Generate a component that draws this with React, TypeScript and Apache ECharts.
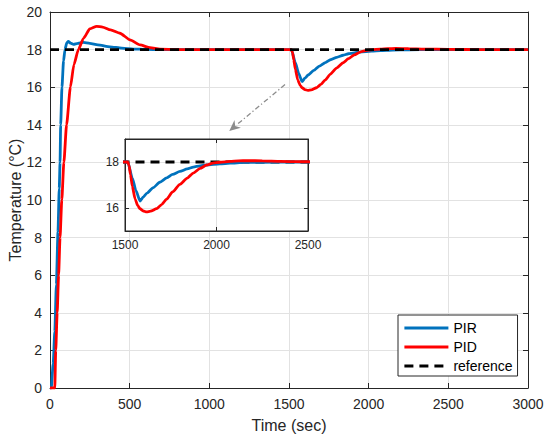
import { useEffect, useRef } from "react";
import * as echarts from "echarts";

const pirData: number[][] = [
  [0, 0], [8, 0], [20, 1.3], [30, 3.0], [40, 5.5], [50, 8.3], [58, 10.6], [63, 12.0], [67, 14.0],
  [75, 16.0], [85, 17.4], [94, 18.0], [105, 18.35], [115, 18.43], [130, 18.34], [147, 18.28],
  [175, 18.33], [209, 18.38], [250, 18.33], [300, 18.25], [377, 18.15], [450, 18.08], [523, 18.03],
  [600, 18.01], [700, 18.0], [1000, 18.0], [1515, 18.0], [1540, 17.3], [1560, 16.75], [1582, 16.3],
  [1600, 16.48], [1620, 16.65], [1655, 16.89], [1690, 17.12], [1728, 17.31], [1760, 17.46],
  [1800, 17.59], [1840, 17.7], [1873, 17.78], [1910, 17.83], [1946, 17.87], [2019, 17.92],
  [2074, 17.95], [2150, 17.98], [2250, 17.99], [2400, 18.0], [3000, 18.0],
];

const pidData: number[][] = [
  [0, 0], [30, 0], [36, 2], [45, 4], [54, 6], [63, 8], [74, 10], [87, 12], [104, 14], [128, 16],
  [150, 17.2], [178, 18.0], [210, 18.6], [250, 19.1], [293, 19.24], [330, 19.2], [380, 19.05],
  [439, 18.87], [502, 18.52], [565, 18.25], [628, 18.1], [690, 18.02], [800, 18.0], [1515, 18.0],
  [1522, 17.85], [1530, 17.45], [1540, 16.95], [1555, 16.39], [1570, 16.1], [1582, 15.97],
  [1600, 15.87], [1618, 15.83], [1640, 15.86], [1673, 15.97], [1700, 16.15], [1728, 16.39],
  [1760, 16.7], [1800, 17.03], [1840, 17.3], [1873, 17.52], [1910, 17.72], [1946, 17.87],
  [1980, 17.95], [2019, 17.99], [2074, 18.03], [2120, 18.05], [2170, 18.06], [2250, 18.05],
  [2350, 18.03], [2500, 18.01], [2700, 18.0], [3000, 18.0],
];

const refData: number[][] = [[0, 18], [3000, 18]];

const seriesNames = ["PIR", "PID", "reference"];
const xAxisName = "Time (sec)";
const yAxisName = "Temperature (°C)";
const insetYLabels = [16, 18];
const arrowFrom = [1475, 16.14];
const arrowTo = [1125, 13.67];

const FONT = "Liberation Sans, Arial, Helvetica, sans-serif";
const AX = "#262626";
const GRID = "#e2e2e2";
const BLUE = "#0072BD";
const RED = "#FF0000";
const plain = (v: number) => String(v);

function axisBase(extra: any) {
  return {
    type: "value",
    axisLine: { show: true, onZero: false, lineStyle: { color: AX, width: 1 } },
    axisTick: { show: true, inside: true, length: 5, lineStyle: { color: AX } },
    axisLabel: { color: AX, fontFamily: FONT, fontSize: 14 },
    splitLine: { show: false },
    ...extra,
  };
}

export default function App() {
  const ref = useRef<HTMLDivElement>(null);
  useEffect(() => {
    document.body.style.margin = "0";
    const chart = echarts.init(ref.current!, null, { renderer: "svg" });
    const lineW = 2.8;
    const option: any = {
      animation: false,
      backgroundColor: "#fff",
      grid: [
        { left: 50, right: 22, top: 12, bottom: 52, containLabel: false, outerBoundsMode: "none" },
        {
          left: 125, top: 139, width: 183, height: 92, show: true, containLabel: false,
          outerBoundsMode: "none",
          backgroundColor: "#fff", borderColor: AX, borderWidth: 1, z: 1,
        },
      ],
      xAxis: [
        axisBase({
          gridIndex: 0, min: 0, max: 3000, interval: 500, position: "bottom",
          axisLabel: { color: AX, fontFamily: FONT, fontSize: 14, margin: 9, formatter: plain },
          splitLine: { show: true, lineStyle: { color: GRID, width: 1 } },
          name: xAxisName, nameLocation: "middle", nameGap: 29, nameMoveOverlap: false,
          nameTextStyle: { color: AX, fontFamily: FONT, fontSize: 16 },
        }),
        axisBase({
          gridIndex: 0, min: 0, max: 3000, interval: 500, position: "top",
          axisLabel: { show: false },
        }),
        axisBase({
          gridIndex: 1, min: 1500, max: 2500, interval: 500, position: "bottom", z: 3,
          axisLabel: { color: AX, fontFamily: FONT, fontSize: 12, margin: 8, formatter: plain },
          splitLine: { show: true, lineStyle: { color: GRID, width: 1 } },
          axisTick: { show: true, inside: true, length: 4, lineStyle: { color: AX } },
        }),
        axisBase({
          gridIndex: 1, min: 1500, max: 2500, interval: 500, position: "top", z: 3,
          axisLabel: { show: false },
          axisTick: { show: true, inside: true, length: 4, lineStyle: { color: AX } },
        }),
      ],
      yAxis: [
        axisBase({
          gridIndex: 0, min: 0, max: 20, interval: 2, position: "left",
          axisLabel: { color: AX, fontFamily: FONT, fontSize: 14, margin: 8, formatter: plain },
          splitLine: { show: true, lineStyle: { color: GRID, width: 1 } },
          name: yAxisName, nameLocation: "middle", nameGap: 27, nameMoveOverlap: false,
          nameTextStyle: { color: AX, fontFamily: FONT, fontSize: 16 },
        }),
        axisBase({
          gridIndex: 0, min: 0, max: 20, interval: 2, position: "right",
          axisLabel: { show: false },
        }),
        axisBase({
          gridIndex: 1, min: 15, max: 19, interval: 1, position: "left", z: 3,
          axisLabel: { color: AX, fontFamily: FONT, fontSize: 12, margin: 6, customValues: insetYLabels },
          axisTick: { show: true, inside: true, length: 4, customValues: insetYLabels, lineStyle: { color: AX } },
          splitLine: { show: true, lineStyle: { color: GRID, width: 1 } },
        }),
        axisBase({
          gridIndex: 1, min: 15, max: 19, interval: 1, position: "right", z: 3,
          axisLabel: { show: false },
          axisTick: { show: true, inside: true, length: 4, customValues: insetYLabels, lineStyle: { color: AX } },
        }),
      ],
      legend: {
        data: seriesNames,
        orient: "vertical",
        left: 398,
        top: 315,
        padding: [6, 5, 3, 5],
        itemGap: 5,
        itemWidth: 44,
        itemHeight: 14,
        backgroundColor: "#fff",
        borderColor: AX,
        borderWidth: 1,
        borderRadius: 0,
        itemStyle: { opacity: 0 },
        lineStyle: { width: 2.8 },
        textStyle: { color: "#000", fontFamily: FONT, fontSize: 14 },
        z: 10,
      },
      series: [
        {
          name: seriesNames[0], type: "line", xAxisIndex: 0, yAxisIndex: 0, data: pirData,
          showSymbol: false, symbol: "none", smooth: 0.2, smoothMonotone: "x",
          lineStyle: { color: BLUE, width: lineW }, itemStyle: { color: BLUE }, z: 2,
        },
        {
          name: seriesNames[1], type: "line", xAxisIndex: 0, yAxisIndex: 0, data: pidData,
          showSymbol: false, symbol: "none", smooth: 0.2, smoothMonotone: "x",
          lineStyle: { color: RED, width: lineW }, itemStyle: { color: RED }, z: 3,
        },
        {
          name: seriesNames[2], type: "line", xAxisIndex: 0, yAxisIndex: 0, data: refData,
          showSymbol: false, symbol: "none",
          lineStyle: { color: "#000", width: lineW, type: [9, 6] }, itemStyle: { color: "#000" }, z: 4,
        },
        {
          name: seriesNames[2], type: "line", xAxisIndex: 2, yAxisIndex: 2, data: refData,
          showSymbol: false, symbol: "none", clip: true,
          lineStyle: { color: "#000", width: lineW, type: [9, 6] }, itemStyle: { color: "#000" }, z: 5,
        },
        {
          name: seriesNames[0], type: "line", xAxisIndex: 2, yAxisIndex: 2, data: pirData,
          showSymbol: false, symbol: "none", smooth: 0.2, smoothMonotone: "x", clip: true,
          lineStyle: { color: BLUE, width: lineW }, itemStyle: { color: BLUE }, z: 6,
        },
        {
          name: seriesNames[1], type: "line", xAxisIndex: 2, yAxisIndex: 2, data: pidData,
          showSymbol: false, symbol: "none", smooth: 0.2, smoothMonotone: "x", clip: true,
          lineStyle: { color: RED, width: lineW }, itemStyle: { color: RED }, z: 7,
        },
      ],
    };
    chart.setOption(option);

    const a = chart.convertToPixel({ xAxisIndex: 0, yAxisIndex: 0 }, arrowFrom) as number[];
    const b = chart.convertToPixel({ xAxisIndex: 0, yAxisIndex: 0 }, arrowTo) as number[];
    if (a && b) {
      const dx = b[0] - a[0];
      const dy = b[1] - a[1];
      const len = Math.sqrt(dx * dx + dy * dy);
      const ux = dx / len;
      const uy = dy / len;
      const headL = 11;
      const headW = 5;
      const bx = b[0] - ux * headL;
      const by = b[1] - uy * headL;
      const px = -uy;
      const py = ux;
      chart.setOption({
        graphic: [
          {
            type: "line", z: 20, silent: true,
            shape: { x1: a[0], y1: a[1], x2: bx + ux * 2, y2: by + uy * 2 },
            style: { stroke: "#8c8c8c", lineWidth: 1.3, lineDash: [5, 2.5, 1.2, 2.5] },
          },
          {
            type: "polygon", z: 20, silent: true,
            shape: {
              points: [
                [b[0], b[1]],
                [bx + px * headW, by + py * headW],
                [b[0] - ux * headL * 0.7, b[1] - uy * headL * 0.7],
                [bx - px * headW, by - py * headW],
              ],
            },
            style: { fill: "#8c8c8c", stroke: "none" },
          },
        ],
      });
    }
    return () => chart.dispose();
  }, []);
  return <div ref={ref} style={{ position: "absolute", left: 0, top: 0, width: 550, height: 440 }} />;
}
